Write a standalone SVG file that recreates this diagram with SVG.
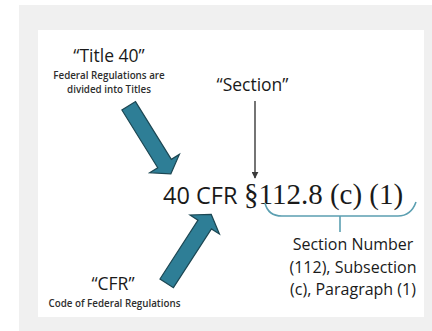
<svg xmlns="http://www.w3.org/2000/svg" width="432" height="331" viewBox="0 0 432 331">
<style>
.sans{font-family:"Open Sans","Liberation Sans",sans-serif;fill:#1a1a1a}
.serif{font-family:"Liberation Serif","Times New Roman",serif;fill:#1a1a1a}
.big{font-size:17.5px}
.small{font-size:9.8px;font-weight:600;fill:#2e2e2e}
.lbl{font-size:16px}
.blk{fill:#2e7e96;stroke:#1c4753;stroke-width:1.2;stroke-linejoin:miter}
</style>
<defs>
<marker id="ah" viewBox="0 0 10 10" refX="9" refY="5" markerWidth="7" markerHeight="7" markerUnits="userSpaceOnUse" orient="auto">
<path d="M0,0 L10,5 L0,10 Z" fill="#3a3a3a"/>
</marker>
</defs>
<rect x="0" y="0" width="432" height="331" fill="#ffffff"/>
<rect x="19" y="5" width="413" height="326" fill="#f0f0f0"/>
<rect x="38" y="30" width="386" height="287" fill="#ffffff"/>

<g id="title40">
<text class="sans big" x="109" y="62" text-anchor="middle">“Title 40”</text>
<text class="sans small" x="109" y="79" text-anchor="middle">Federal Regulations are</text>
<text class="sans small" x="109" y="93" text-anchor="middle">divided into Titles</text>
</g>

<g id="section">
<text class="sans big" x="252.5" y="91" text-anchor="middle">“Section”</text>
</g>

<g id="citation">
<text x="163" y="203.5"><tspan class="sans" font-size="23.5px">40 CFR </tspan><tspan class="serif" font-size="29px" x="244">§112.8 (c) (1)</tspan></text>
</g>

<g id="cfr">
<text class="sans big" x="113" y="290" text-anchor="middle">“CFR”</text>
<text class="sans small" x="114.5" y="307" text-anchor="middle">Code of Federal Regulations</text>
</g>

<g id="sectionNumber">
<text class="sans lbl" x="353" y="250" text-anchor="middle">Section Number</text>
<text class="sans lbl" x="353" y="273" text-anchor="middle">(112), Subsection</text>
<text class="sans lbl" x="353" y="295" text-anchor="middle">(c), Paragraph (1)</text>
</g>

<g id="connectors">
<polygon class="blk" transform="translate(128.7,105.8) rotate(58.2)" points="0,-8 68,-8 68,-17.5 80,0 68,17.5 68,8 0,8"/>
<polygon class="blk" transform="translate(166.7,283.3) rotate(-57.1)" points="0,-8 70,-8 70,-17.5 82,0 70,17.5 70,8 0,8"/>
<line x1="255" y1="101" x2="255" y2="178" stroke="#3a3a3a" stroke-width="1.4" marker-end="url(#ah)"/>
<path d="M265,203 Q268,216 282,216 L398,216 Q411,216 416,202" fill="none" stroke="#5b9fb1" stroke-width="1.6"/>
<line x1="340" y1="216" x2="340" y2="232" stroke="#5b9fb1" stroke-width="1.6"/>
</g>
</svg>
